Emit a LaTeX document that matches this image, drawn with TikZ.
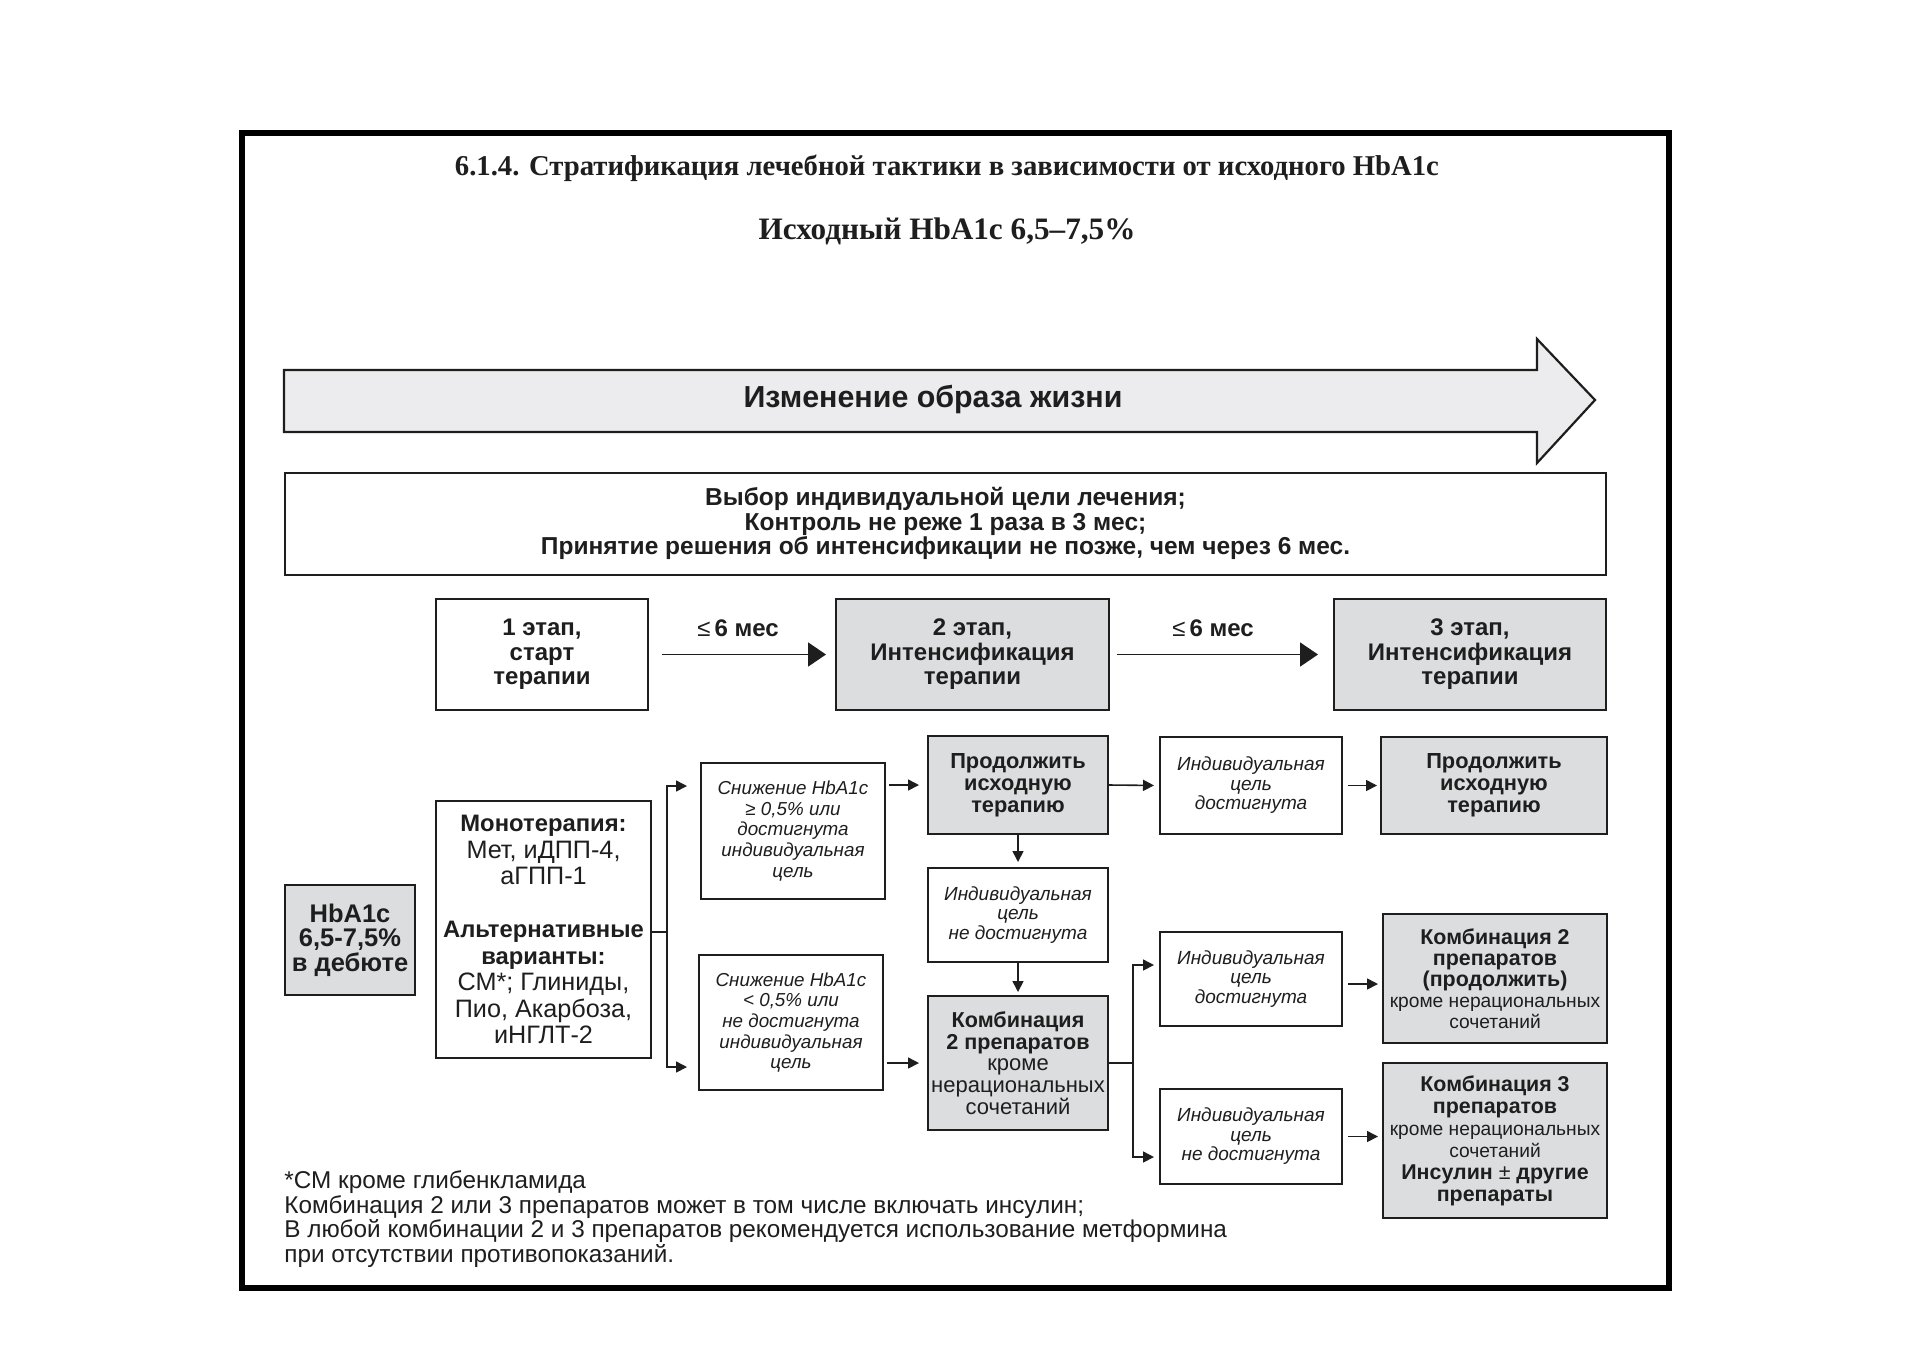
\documentclass[tikz,border=0pt]{standalone}
\usepackage{fontspec}
\setmainfont{Liberation Sans}
\newfontfamily\serifT{Liberation Serif}
\usetikzlibrary{arrows.meta,calc}
\definecolor{boxgrey}{HTML}{DCDDDE}
\definecolor{arrowgrey}{HTML}{ECECEE}
\definecolor{ink}{HTML}{1E1E1E}
\tikzset{
  bx/.style={draw=ink, line width=1pt, inner sep=0pt, align=center, text=ink},
  gbx/.style={bx, fill=boxgrey},
  arr/.style={draw=ink, line width=0.8pt, -{Triangle[length=5.5pt,width=5.5pt]}},
  bigarr/.style={draw=ink, line width=0.9pt, -{Triangle[length=9pt,width=12pt]}},
  ln/.style={draw=ink, line width=0.8pt},
  stagefont/.style={font=\fontsize{12}{12.25}\selectfont\bfseries},
  condfont/.style={font=\fontsize{9.4}{10.3}\selectfont\itshape},
  goalfont/.style={font=\fontsize{9.5}{9.75}\selectfont\itshape},
}
\begin{document}
\begin{tikzpicture}[x=0.5pt,y=-0.5pt]
\useasboundingbox (0,0) rectangle (1909,1350);
\fill[white] (0,0) rectangle (1909,1350);
% frame
\draw[line width=2.8pt, draw=black] (242,133) rectangle (1669,1288);

% titles
\node[font=\serifT\bfseries\fontsize{14.35}{16}\selectfont, text=ink] (t1) at (947,168) {6.1.4. Стратификация лечебной тактики в зависимости от исходного HbA1c};
\node[font=\serifT\bfseries\fontsize{15.6}{17}\selectfont, text=ink] (t2) at (947,231) {Исходный HbA1c 6,5–7,5\%};

% lifestyle arrow
\draw[fill=arrowgrey, line width=1.1pt, draw=ink, line join=miter]
  (284,370) -- (1537,370) -- (1537,339) -- (1595,400) -- (1537,463) -- (1537,432) -- (284,432) -- cycle;
\node[font=\fontsize{15.2}{17}\selectfont\bfseries, text=ink] (life) at (933,399) {Изменение образа жизни};

% choice box
\node[bx, minimum width=660.5pt, minimum height=51pt, font=\fontsize{12.25}{12.2}\selectfont\bfseries] (choice) at (945.5,523.5)
 {Выбор индивидуальной цели лечения;\\Контроль не реже 1 раза в 3 мес;\\Принятие решения об интенсификации не позже, чем через 6 мес.};

% stages
\node[bx, stagefont, minimum width=106pt, minimum height=55.5pt] (s1) at (542,654.5) {1 этап,\\старт\\терапии};
\node[gbx, stagefont, minimum width=136.5pt, minimum height=55.5pt] (s2) at (972.5,654.5) {2 этап,\\Интенсификация\\терапии};
\node[gbx, stagefont, minimum width=136pt, minimum height=55.5pt] (s3) at (1470,654.5) {3 этап,\\Интенсификация\\терапии};
\draw[bigarr, shorten <=6.5pt, shorten >=4.5pt] (s1.east) -- (s2.west);
\draw[bigarr, shorten <=3.5pt, shorten >=7.5pt] (s2.east) -- (s3.west);
\node[stagefont, text=ink] (m1) at (738,628) {{\mdseries ≤}\,6 мес};
\node[stagefont, text=ink] (m2) at (1213,628) {{\mdseries ≤}\,6 мес};

% left column
\node[gbx, minimum width=65pt, minimum height=55pt, font=\fontsize{12.75}{12.25}\selectfont\bfseries] (hb) at (350,940) {HbA1c\\6,5-7,5\%\\в дебюте};
\node[bx, minimum width=107.5pt, minimum height=128.5pt, font=\fontsize{12.6}{13.25}\selectfont] (mono) at (543.5,929.5)
 {{\fontsize{11.9}{13.25}\selectfont\bfseries Монотерапия:}\\Мет, иДПП-4,\\аГПП-1\\[13.25pt]{\fontsize{11.9}{13.25}\selectfont\bfseries Альтернативные}\\{\fontsize{11.9}{13.25}\selectfont\bfseries варианты:}\\СМ*; Глиниды,\\Пио, Акарбоза,\\иНГЛТ-2};

% condition boxes
\node[bx, condfont, minimum width=92pt, minimum height=68pt] (c1) at (793,831)
 {Снижение HbA1c\\≥ 0,5\% или\\достигнута\\индивидуальная\\цель};
\node[bx, condfont, minimum width=92pt, minimum height=67.5pt] (c2) at (791,1022.5)
 {Снижение HbA1c\\< 0,5\% или\\не достигнута\\индивидуальная\\цель};

% branch from monotherapy
\coordinate (b1) at (667,932);
\draw[ln] (b1 -| mono.east) -- (b1);
\draw[arr, shorten >=6.5pt] (b1) |- ([yshift=22.5pt]c1.west);
\draw[arr, shorten >=5.5pt] (b1) |- ([yshift=-22.25pt]c2.west);

% middle column
\node[gbx, minimum width=90pt, minimum height=49pt, font=\fontsize{10.9}{11}\selectfont\bfseries] (p1) at (1018,785) {Продолжить\\исходную\\терапию};
\node[bx, minimum width=90pt, minimum height=47pt, font=\fontsize{9.5}{9.6}\selectfont\itshape] (n1) at (1018,915) {Индивидуальная\\цель\\не достигнута};
\node[gbx, minimum width=90pt, minimum height=67pt, font=\fontsize{11}{10.9}\selectfont] (k2) at (1018,1063)
 {{\fontsize{10.8}{10.9}\selectfont\bfseries Комбинация}\\{\fontsize{10.8}{10.9}\selectfont\bfseries 2 препаратов}\\кроме\\нерациональных\\сочетаний};

\draw[arr, shorten <=1.5pt, shorten >=4pt] (c1.east |- p1.west) -- (p1.west);
\draw[arr, shorten <=1.5pt, shorten >=4pt] (c2.east |- k2.west) -- (k2.west);
\draw[arr, shorten >=2.5pt] (p1.south) -- (n1.north);
\draw[arr, shorten >=1.5pt] (n1.south) -- (k2.north);

% right columns
\node[bx, goalfont, minimum width=91pt, minimum height=48.5pt] (g1) at (1251,785.5) {Индивидуальная\\цель\\достигнута};
\node[gbx, minimum width=113pt, minimum height=48.5pt, font=\fontsize{10.9}{11}\selectfont\bfseries] (p2) at (1494,785.5) {Продолжить\\исходную\\терапию};
\node[bx, goalfont, minimum width=91pt, minimum height=47pt] (g2) at (1251,979) {Индивидуальная\\цель\\достигнута};
\node[gbx, minimum width=112pt, minimum height=64.5pt, font=\fontsize{10.7}{10.5}\selectfont\bfseries] (k2b) at (1495,978.5)
 {Комбинация 2\\препаратов\\(продолжить)\\{\mdseries\fontsize{9.6}{10.5}\selectfont кроме нерациональных}\\{\mdseries\fontsize{9.6}{10.5}\selectfont сочетаний}};
\node[bx, goalfont, minimum width=91pt, minimum height=47.5pt] (g3) at (1251,1136.5) {Индивидуальная\\цель\\не достигнута};
\node[gbx, minimum width=112pt, minimum height=77.5pt, font=\fontsize{10.7}{11}\selectfont\bfseries] (k3) at (1495,1140.5)
 {Комбинация 3\\препаратов\\{\mdseries\fontsize{9.6}{11}\selectfont кроме нерациональных}\\{\mdseries\fontsize{9.6}{11}\selectfont сочетаний}\\Инсулин {\mdseries ±} другие\\препараты};

\draw[arr, shorten >=2.5pt] (p1.east) -- (g1.west);
\draw[arr, shorten <=2.5pt, shorten >=1.5pt] (g1.east) -- (p2.west |- g1.east);
\coordinate (b2) at (1133,1063);
\draw[ln] (k2.east) -- (b2);
\draw[arr, shorten >=2.5pt] (b2) |- ([yshift=7pt]g2.west);
\draw[arr, shorten >=2.5pt] (b2) |- ([yshift=-10.25pt]g3.west);
\draw[arr, shorten <=2.5pt, shorten >=2pt] ([yshift=-2.5pt]g2.east) -- ([yshift=-2.5pt]g2.east -| k2b.west);
\draw[arr, shorten <=2.5pt, shorten >=2pt] (g3.east) -- (g3.east -| k3.west);

% footnote
\node[anchor=west, align=left, inner sep=0pt, text=ink, font=\fontsize{12.15}{12.2}\selectfont] (foot) at (284,1219)
 {*СМ кроме глибенкламида\\Комбинация 2 или 3 препаратов может в том числе включать инсулин;\\В любой комбинации 2 и 3 препаратов рекомендуется использование метформина\\при отсутствии противопоказаний.};
\end{tikzpicture}
\end{document}
